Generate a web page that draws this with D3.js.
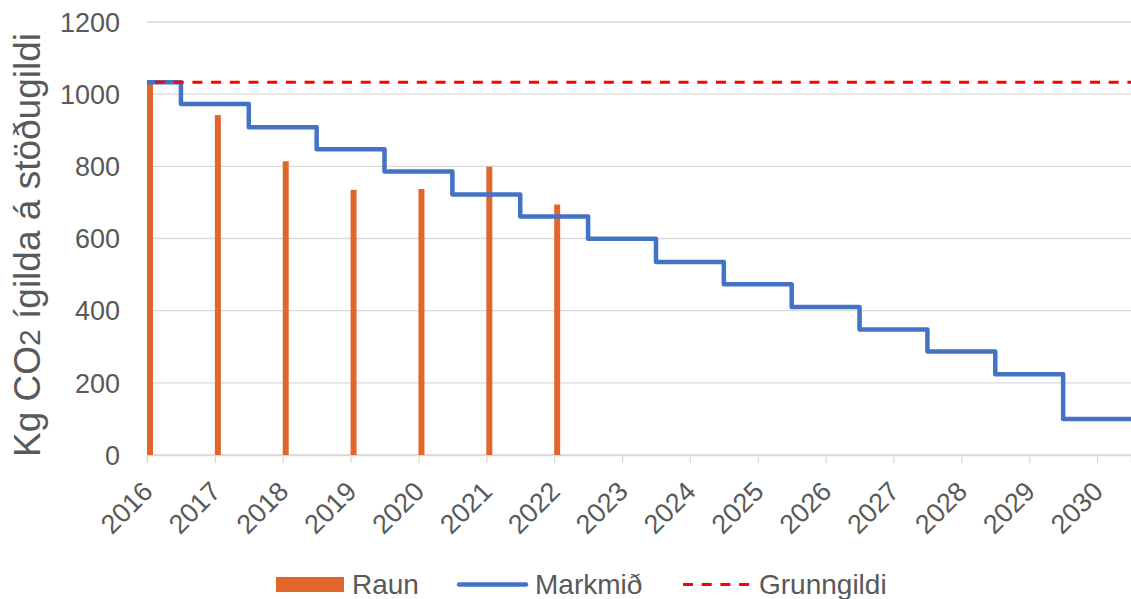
<!DOCTYPE html>
<html><head><meta charset="utf-8">
<script src="https://cdn.jsdelivr.net/npm/d3@7"></script>
<style>
html,body{margin:0;padding:0;background:#fff;}
svg{display:block;font-family:"Liberation Sans",Arial,sans-serif;}
</style></head>
<body>
<svg id="chart" width="1131" height="599"></svg>
<script>
const years = [2016,2017,2018,2019,2020,2021,2022,2023,2024,2025,2026,2027,2028,2029,2030];
const raunYears = [2016,2017,2018,2019,2020,2021,2022];
const raun = [1032, 942, 814, 735, 737, 799, 694];
const markmid = [1033, 973, 908, 847, 786, 722, 661, 599, 535, 473, 410, 348, 287, 224, 100];
const grunngildi = 1033;
const yTicks = [0,200,400,600,800,1000,1200];
const legendLabels = ["Raun","Markmið","Grunngildi"];

const svg = d3.select("#chart");
const pLeft = 147, pRight = 1131, pTop = 22, pBottom = 455;
const x = d3.scaleLinear().domain([2016, 2030.5]).range([pLeft, pRight]);
const y = d3.scaleLinear().domain([0, 1200]).range([pBottom, pTop]);
const textColor = "#595959", gridColor = "#d9d9d9";

// gridlines
svg.append("g").selectAll("line").data(yTicks).join("line")
  .attr("x1", pLeft).attr("x2", pRight)
  .attr("y1", d => y(d)).attr("y2", d => y(d))
  .attr("stroke", gridColor).attr("stroke-width", 1.3);

// y tick labels
svg.append("g").selectAll("text").data(yTicks).join("text")
  .attr("x", 120).attr("y", d => y(d)).attr("dy", "0.36em")
  .attr("text-anchor", "end").attr("fill", textColor)
  .style("font-size", "27px").text(d => d);

// x axis
const xAxis = d3.axisBottom(x).tickValues(years).tickFormat(d3.format("d")).tickSize(8).tickPadding(0);
const gx = svg.append("g").attr("transform", `translate(0,${pBottom})`).call(xAxis);
gx.select(".domain").attr("stroke", gridColor).attr("stroke-width", 1.3);
gx.selectAll(".tick line").attr("stroke", gridColor).attr("stroke-width", 1.3);
gx.selectAll(".tick text")
  .attr("fill", textColor).style("font-size", "27px")
  .attr("font-family", "Liberation Sans, Arial, sans-serif")
  .attr("text-anchor", "end").attr("dy", null).attr("y", null)
  .attr("transform", "translate(7,38) rotate(-45)");

// y title
const title = svg.append("text")
  .attr("transform", `translate(40,245) rotate(-90)`)
  .attr("text-anchor", "middle").attr("fill", textColor)
  .style("font-size", "37px");
title.append("tspan").text("Kg CO");
title.append("tspan").style("font-size", "30px").text("2");
title.append("tspan").text(" ígilda á stöðugildi");

// bars
svg.append("g").selectAll("rect").data(raunYears.map((d,i)=>({year:d, v:raun[i]}))).join("rect")
  .attr("x", d => x(d.year)).attr("width", 6)
  .attr("y", d => y(d.v)).attr("height", d => y(0) - y(d.v))
  .attr("fill", "#E0662C");

// step line
const stepData = years.map((d,i)=>[d, markmid[i]]);
stepData.push([x.domain()[1], markmid[markmid.length-1]]);
const stepLine = d3.line().x(d => x(d[0])).y(d => y(d[1])).curve(d3.curveStep);
svg.append("path").datum(stepData).attr("d", stepLine)
  .attr("fill", "none").attr("stroke", "#4472C4").attr("stroke-width", 4.5)
  .attr("stroke-linejoin", "round");

// baseline dashed
svg.append("line")
  .attr("x1", x(2016)).attr("x2", x(x.domain()[1]))
  .attr("y1", y(grunngildi)).attr("y2", y(grunngildi))
  .attr("stroke", "#FF0000").attr("stroke-width", 3)
  .attr("stroke-dasharray", "10,8.7").attr("stroke-dashoffset", 10.7);

// legend
const lg = svg.append("g");
const ly = 584.5;
lg.append("rect").attr("x", 276).attr("y", ly - 7.5).attr("width", 68).attr("height", 15).attr("fill", "#E0662C");
lg.append("text").attr("x", 352).attr("y", 593.5).attr("fill", textColor).style("font-size", "28px").text(legendLabels[0]);
lg.append("line").attr("x1", 459).attr("x2", 526).attr("y1", ly).attr("y2", ly)
  .attr("stroke", "#4472C4").attr("stroke-width", 4.5).attr("stroke-linecap", "round");
lg.append("text").attr("x", 535).attr("y", 593.5).attr("fill", textColor).style("font-size", "28px").text(legendLabels[1]);
lg.append("line").attr("x1", 683).attr("x2", 750).attr("y1", ly).attr("y2", ly)
  .attr("stroke", "#FF0000").attr("stroke-width", 3).attr("stroke-dasharray", "10,8.7");
lg.append("text").attr("x", 759).attr("y", 593.5).attr("fill", textColor).style("font-size", "28px").text(legendLabels[2]);
</script>
</body></html>
